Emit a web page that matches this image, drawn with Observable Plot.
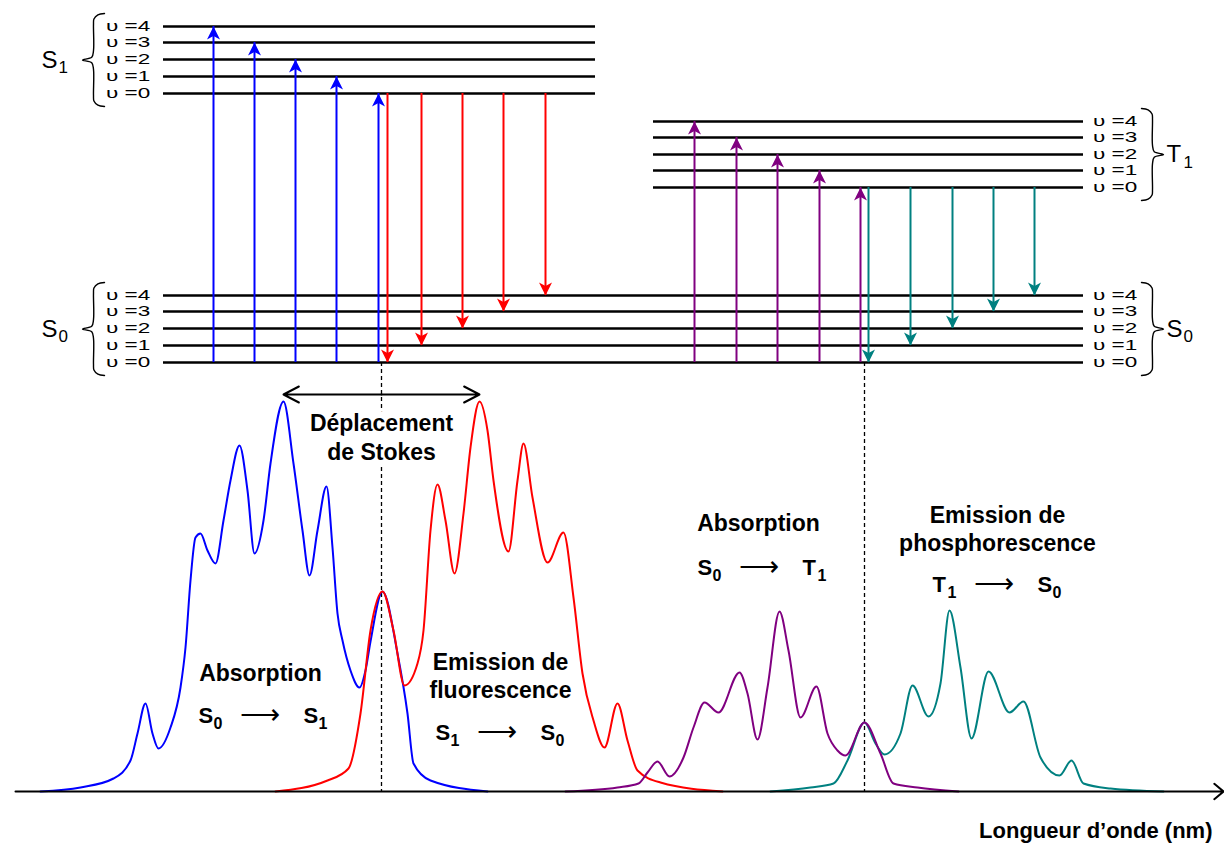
<!DOCTYPE html>
<html><head><meta charset="utf-8">
<script src="https://cdn.jsdelivr.net/npm/d3@7"></script>
<script src="https://cdn.jsdelivr.net/npm/@observablehq/plot@0.6"></script>
<style>
body{margin:0;background:#fff;}
#chart svg{display:block;}
g.ups-l{transform-origin:106px 0;transform:scaleX(1.5);}
g.ups-r{transform-origin:1093px 0;transform:scaleX(1.5);}
</style>
</head><body><div id="chart"></div>
<script>
// ---------- DATA (x: wavelength axis units, y: energy / intensity units; axis baseline y = 0) ----------
const levelNames = ["υ =0", "υ =1", "υ =2", "υ =3", "υ =4"];
const levelS0 = [429, 446, 463, 480, 496];
const levelS1 = [698, 715, 732, 749, 765];
const levelT1 = [604, 621, 637, 654, 670];
const spanS0 = [163, 1083];
const spanS1 = [163, 595];
const spanT1 = [653, 1083];

const absS1X = [213, 254, 295, 336, 378];   // S0 v0 -> S1 v4..v0
const fluoX = [387, 421, 462, 503, 545];    // S1 v0 -> S0 v0..v4
const absT1X = [694, 736, 777, 819, 860];   // S0 v0 -> T1 v4..v0
const phosX = [868, 910, 952, 993, 1034];   // T1 v0 -> S0 v0..v4

// spectra: [wavelength, intensity]
const specAbsS1 = [[40,0],[80,4],[113,13],[130,31],[137,58],[145,88],[152,58],[158,43],[170,64],[180,104],[185,144],[190,211],[195,254],[200,258],[207,241],[215,228],[223,271],[230,311],[239,346],[247,301],[254,238],[263,271],[270,328],[283,390],[293,328],[302,261],[309,216],[317,261],[326,305],[332,244],[337,178],[342,151],[350,121],[359,104],[365,121],[370,150],[382,200],[397,138],[407,78],[413,28],[430,11],[487,0]];
const specFluo = [[275,0],[327,11],[348,23],[360,78],[370,161],[382,200],[393,161],[404,106],[417,128],[423,161],[430,261],[437,307],[445,271],[454,218],[463,278],[470,344],[479,390],[487,361],[493,311],[508,240],[517,311],[523,348],[532,294],[547,229],[563,259],[573,194],[582,118],[593,71],[604,44],[617,88],[627,51],[637,21],[660,9],[722,0]];
const specAbsT1 = [[565,0],[617,4],[638,8],[647,19],[657,30],[669,15],[683,34],[693,64],[704,89],[718,79],[739,119],[747,98],[757,52],[767,104],[779,180],[788,141],[800,74],[816,105],[827,58],[837,41],[845,36],[864,69],[880,38],[893,8],[917,4],[958,0]];
const specPhos = [[770,0],[810,4],[833,8],[847,31],[864,69],[875,48],[884,37],[900,58],[912,106],[928,75],[940,108],[949,181],[960,124],[971,53],[988,120],[1009,79],[1023,90],[1040,34],[1059,16],[1071,31],[1083,8],[1110,3],[1163,0]];

const guideX = [381, 864];                       // 0-0 transitions
const stokes = {from: 283, to: 479, y: 397};     // max absorption -> max emission
const axisSpan = [15, 1223];

const stateLabels = [
  {base: "S", sub: "1", x: 41, y: 731.5},
  {base: "S", sub: "0", x: 41, y: 462.5},
  {base: "T", sub: "1", x: 1166, y: 637},
  {base: "S", sub: "0", x: 1166, y: 462.5}
];
const titles = [
  {text: "Déplacement", x: 381, y: 368}, {text: "de Stokes", x: 381, y: 339},
  {text: "Absorption", x: 260, y: 118},
  {text: "Emission de", x: 500, y: 129}, {text: "fluorescence", x: 500, y: 101},
  {text: "Absorption", x: 758, y: 268},
  {text: "Emission de", x: 997, y: 276}, {text: "phosphorescence", x: 997, y: 248}
];
const transitionsText = [
  {a: "S", aSub: "0", b: "S", bSub: "1", x: 198, y: 76},
  {a: "S", aSub: "1", b: "S", bSub: "0", x: 435, y: 59},
  {a: "S", aSub: "0", b: "T", bSub: "1", x: 697, y: 224},
  {a: "T", aSub: "1", b: "S", bSub: "0", x: 932, y: 207}
];
const axisTitle = "Longueur d’onde (nm)";

// ---------- derived tables ----------
const levels = [
  ...levelS0.map((y, i) => ({y, x1: spanS0[0], x2: spanS0[1]})),
  ...levelS1.map((y, i) => ({y, x1: spanS1[0], x2: spanS1[1]})),
  ...levelT1.map((y, i) => ({y, x1: spanT1[0], x2: spanT1[1]}))
];
const leftLabels = [...levelS0, ...levelS1].map((y, i) => ({y, name: levelNames[i % 5]}));
const rightLabels = [...levelS0, ...levelT1].map((y, i) => ({y, name: levelNames[i % 5]}));

const arrowsUp = [];
const arrowsDown = [];
absS1X.forEach((x, i) => arrowsUp.push({x, y1: levelS0[0], y2: levelS1[4 - i], c: "#0000ff"}));
absT1X.forEach((x, i) => arrowsUp.push({x, y1: levelS0[0], y2: levelT1[4 - i], c: "#800080"}));
fluoX.forEach((x, i) => arrowsDown.push({x, y1: levelS1[0], y2: levelS0[i], c: "#ff0000"}));
phosX.forEach((x, i) => arrowsDown.push({x, y1: levelT1[0], y2: levelS0[i], c: "#008080"}));

const headUp = {draw(ctx) { ctx.moveTo(0, 0); ctx.lineTo(6.5, 13); ctx.lineTo(0, 9.5); ctx.lineTo(-6.5, 13); ctx.closePath(); }};
const headDown = {draw(ctx) { ctx.moveTo(0, 0); ctx.lineTo(6.5, -13); ctx.lineTo(0, -9.5); ctx.lineTo(-6.5, -13); ctx.closePath(); }};

// brace template: u = 0 at tip, 1 at arm ends; v = 0 top, 1 bottom
const braceShape = [[1,0],[0.7,0.015],[0.52,0.06],[0.5,0.12],[0.5,0.4],[0.42,0.47],[0,0.5],[0.42,0.53],[0.5,0.6],[0.5,0.88],[0.52,0.94],[0.7,0.985],[1,1]];
const braceDefs = [
  {lv: levelS1, tip: 82, w: -22}, {lv: levelS0, tip: 82, w: -22},
  {lv: levelT1, tip: 1163, w: 22}, {lv: levelS0, tip: 1163, w: 22}
];
const braces = braceDefs.flatMap((b, k) => {
  const top = Math.max(...b.lv) + 13, bot = Math.min(...b.lv) - 13;
  return braceShape.map(([u, v]) => ({k, x: b.tip - u * b.w, y: top - v * (top - bot)}));
});

const spectra = [
  {data: specAbsS1, c: "#0000ff"}, {data: specFluo, c: "#ff0000"},
  {data: specPhos, c: "#008080"}, {data: specAbsT1, c: "#800080"}
];

const font = "'Liberation Sans', Arial, Helvetica, sans-serif";
const stokesMid = (stokes.from + stokes.to) / 2;

const marks = [];
// dashed guides
marks.push(Plot.ruleX(guideX, {x: d => d, y1: levelS0[0], y2: 0, stroke: "black", strokeWidth: 1.3, strokeDasharray: "4,3"}));
// energy levels
marks.push(Plot.ruleY(levels, {y: "y", x1: "x1", x2: "x2", stroke: "black", strokeWidth: 2.6}));
// level labels
marks.push(Plot.text(leftLabels, {x: 106, y: "y", text: "name", textAnchor: "start", fontSize: 15, fill: "black", className: "ups-l"}));
marks.push(Plot.text(rightLabels, {x: 1093, y: "y", text: "name", textAnchor: "start", fontSize: 15, fill: "black", className: "ups-r"}));
// braces
marks.push(Plot.line(braces, {x: "x", y: "y", z: "k", curve: "catmull-rom", stroke: "black", strokeWidth: 1.4}));
// state labels
marks.push(Plot.text(stateLabels, {x: "x", y: "y", text: "base", textAnchor: "start", fontSize: 24}));
marks.push(Plot.text(stateLabels, {x: "x", y: "y", text: "sub", textAnchor: "start", fontSize: 17, dx: 17, dy: 8}));
// transition arrows
for (const c of ["#0000ff", "#800080"]) {
  const d = arrowsUp.filter(a => a.c === c);
  marks.push(Plot.ruleX(d, {x: "x", y1: "y1", y2: "y2", stroke: c, strokeWidth: 2}));
  marks.push(Plot.dot(d, {x: "x", y: "y2", symbol: headUp, fill: c, stroke: "none"}));
}
for (const c of ["#ff0000", "#008080"]) {
  const d = arrowsDown.filter(a => a.c === c);
  marks.push(Plot.ruleX(d, {x: "x", y1: "y1", y2: "y2", stroke: c, strokeWidth: 2}));
  marks.push(Plot.dot(d, {x: "x", y: "y2", symbol: headDown, fill: c, stroke: "none"}));
}
// spectra
for (const s of spectra) {
  marks.push(Plot.line(s.data, {x: d => d[0], y: d => d[1], stroke: s.c, strokeWidth: 2, curve: "monotone-x"}));
}
// x axis
marks.push(Plot.arrow([axisSpan], {x1: d => d[0], x2: d => d[1], y1: 0, y2: 0, stroke: "black", strokeWidth: 2, headLength: 9, headAngle: 80}));
marks.push(Plot.text([axisTitle], {x: 1212, y: -39, text: d => d, textAnchor: "end", fontSize: 22, fontWeight: "bold"}));
// Stokes shift (double-headed arrow)
marks.push(Plot.arrow([stokes.from, stokes.to], {x1: stokesMid, x2: d => d, y1: stokes.y, y2: stokes.y, stroke: "black", strokeWidth: 2, headLength: 13, headAngle: 55}));
// titles
marks.push(Plot.text(titles, {x: "x", y: "y", text: "text", fontSize: 23, fontWeight: "bold", stroke: "white", strokeWidth: 14, fill: "black"}));
// transition texts
marks.push(Plot.text(transitionsText, {x: "x", y: "y", text: "a", textAnchor: "start", fontSize: 22, fontWeight: "bold"}));
marks.push(Plot.text(transitionsText, {x: "x", y: "y", text: "aSub", textAnchor: "start", fontSize: 16, fontWeight: "bold", dx: 15, dy: 8}));
marks.push(Plot.text(transitionsText, {x: d => d.x + 61, y: "y", text: () => "⟶", fontSize: 28}));
marks.push(Plot.text(transitionsText, {x: d => d.x + 105, y: "y", text: "b", textAnchor: "start", fontSize: 22, fontWeight: "bold"}));
marks.push(Plot.text(transitionsText, {x: d => d.x + 105, y: "y", text: "bSub", textAnchor: "start", fontSize: 16, fontWeight: "bold", dx: 15, dy: 8}));

const chart = Plot.plot({
  width: 1224, height: 843, margin: 0,
  x: {domain: [0, 1224], range: [0, 1224], axis: null},
  y: {domain: [-52, 791], range: [843, 0], axis: null},
  style: {fontFamily: font, background: "white", overflow: "visible"},
  marks
});
document.getElementById("chart").appendChild(chart);
</script>
</body></html>
